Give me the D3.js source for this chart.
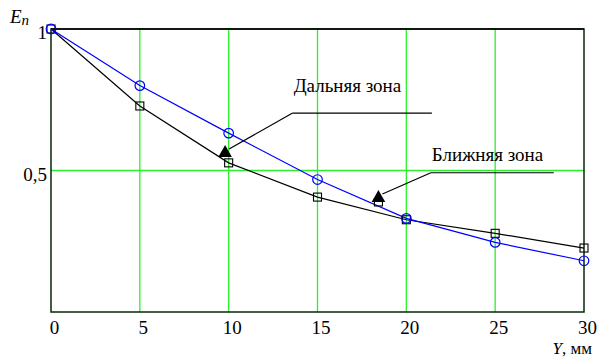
<!DOCTYPE html>
<html><head><meta charset="utf-8">
<script src="https://cdn.jsdelivr.net/npm/d3@7"></script>
</head><body style="margin:0;background:#fff">
<script>
const xValues = [0, 5, 10, 15, 20, 25, 30];
const farZone = [1, 0.80, 0.632, 0.468, 0.331, 0.246, 0.181];   // blue circles
const nearZone = [1, 0.728, 0.527, 0.406, 0.326, 0.278, 0.226]; // black squares
const xTicks = [0, 5, 10, 15, 20, 25, 30];
const yTicks = [0.5, 1];
const yTickLabels = ["0,5", "1"];
const annotLabels = ["Дальняя зона", "Ближняя зона"];
const annotTargetX = [9.8, 18.43];
const annotTargetY = [0.562, 0.403];
const annotLineX = [13.6, 21.38];
const annotLineY = [0.703, 0.492];
const annotLineEndX = [21.44, 28.3];

const FONT = "font-family:'Liberation Serif',serif;";
const W = 599, H = 358;
const svg = d3.select("body").append("svg").attr("width", W).attr("height", H).style("display", "block");
const x = d3.scaleLinear().domain([0, 30]).range([51, 584]);
const y = d3.scaleLinear().domain([0, 1]).range([312, 29]);

// grid
svg.append("g").selectAll("line").data(xTicks.filter(d => d > 0 && d < 30)).join("line")
  .attr("x1", d => x(d)).attr("x2", d => x(d)).attr("y1", y(0)).attr("y2", y(1))
  .attr("stroke", "#2cf02c").attr("stroke-width", 1.3);
svg.append("line").attr("x1", x(0)).attr("x2", x(30)).attr("y1", y(0.5)).attr("y2", y(0.5))
  .attr("stroke", "#2cf02c").attr("stroke-width", 1.3);

// frame
svg.append("rect").attr("x", x(0)).attr("y", y(1)).attr("width", x(30) - x(0)).attr("height", y(0) - y(1))
  .attr("fill", "none").attr("stroke", "#062806").attr("stroke-width", 1.5);
svg.append("line").attr("x1", x(0)).attr("x2", x(30)).attr("y1", y(1)).attr("y2", y(1)).attr("stroke", "#000").attr("stroke-width", 1.5);

// axes labels
const xAxis = d3.axisBottom(x).tickValues(xTicks).tickSize(0).tickPadding(0).tickFormat(d => d);
const gx = svg.append("g").attr("transform", `translate(3,${y(0)})`).call(xAxis).attr("font-family", null).attr("font-size", null);
gx.select(".domain").remove();
gx.selectAll("text").attr("style", FONT + "font-size:19px").attr("fill", "#000").attr("dy", null).attr("y", 22);

const yAxis = d3.axisLeft(y).tickValues(yTicks).tickSize(0).tickPadding(4).tickFormat((d, i) => yTickLabels[i]);
const gy = svg.append("g").attr("transform", `translate(${x(0)},0)`).call(yAxis).attr("font-family", null).attr("font-size", null);
gy.select(".domain").remove();
gy.selectAll("text").attr("style", FONT + "font-size:19px").attr("fill", "#000").attr("dy", null).attr("y", 9.5);

// axis titles
const et = svg.append("text").attr("x", 10).attr("y", 23).attr("style", FONT + "font-size:19px;font-style:italic");
et.append("tspan").text("E");
et.append("tspan").text("n").attr("dy", 2).attr("style", "font-size:15px");
const yt = svg.append("text").attr("x", 592).attr("y", 354).attr("text-anchor", "end").attr("style", FONT + "font-size:17px");
yt.append("tspan").text("Y").attr("style", "font-style:italic");
yt.append("tspan").text(", мм");

// series
const pts = (arr) => xValues.map((v, i) => [v, arr[i]]);
const line = d3.line().x(d => x(d[0])).y(d => y(d[1]));
svg.append("path").datum(pts(nearZone)).attr("d", line).attr("fill", "none").attr("stroke", "#000").attr("stroke-width", 1.2);
svg.append("path").datum(pts(farZone)).attr("d", line).attr("fill", "none").attr("stroke", "#0000ff").attr("stroke-width", 1.2);
svg.append("g").selectAll("rect").data(pts(nearZone)).join("rect")
  .attr("x", d => x(d[0]) - 4).attr("y", d => y(d[1]) - 4).attr("width", 8).attr("height", 8)
  .attr("fill", "none").attr("stroke", "#000").attr("stroke-width", 1.1);
svg.append("g").selectAll("circle").data(pts(farZone)).join("circle")
  .attr("cx", d => x(d[0])).attr("cy", d => y(d[1])).attr("r", 4.8)
  .attr("fill", "none").attr("stroke", "#0000ff").attr("stroke-width", 1.2);

// annotations
const tri = d3.symbol().type(d3.symbolTriangle).size(80);
const textGap = [21, 12];
annotLabels.forEach((label, i) => {
  const tx = x(annotTargetX[i]), ty = y(annotTargetY[i]);
  const lx = x(annotLineX[i]), ly = y(annotLineY[i]);
  if (i === 1) {
    svg.append("rect").attr("x", tx - 4).attr("y", ty + 1).attr("width", 8).attr("height", 7)
      .attr("fill", "none").attr("stroke", "#000").attr("stroke-width", 1.1);
  }
  svg.append("path").attr("d", tri).attr("transform", `translate(${tx},${ty})`).attr("fill", "#000");
  svg.append("line").attr("x1", tx + 4).attr("y1", ty - 4).attr("x2", lx).attr("y2", ly)
    .attr("stroke", "#000").attr("stroke-width", 1.2);
  svg.append("line").attr("x1", lx).attr("y1", ly).attr("x2", x(annotLineEndX[i])).attr("y2", ly)
    .attr("stroke", "#000").attr("stroke-width", 1.2);
  svg.append("text").attr("x", lx + 1).attr("y", ly - textGap[i]).attr("style", FONT + "font-size:19px").attr("fill", "#000").text(label);
});
</script>
</body></html>
